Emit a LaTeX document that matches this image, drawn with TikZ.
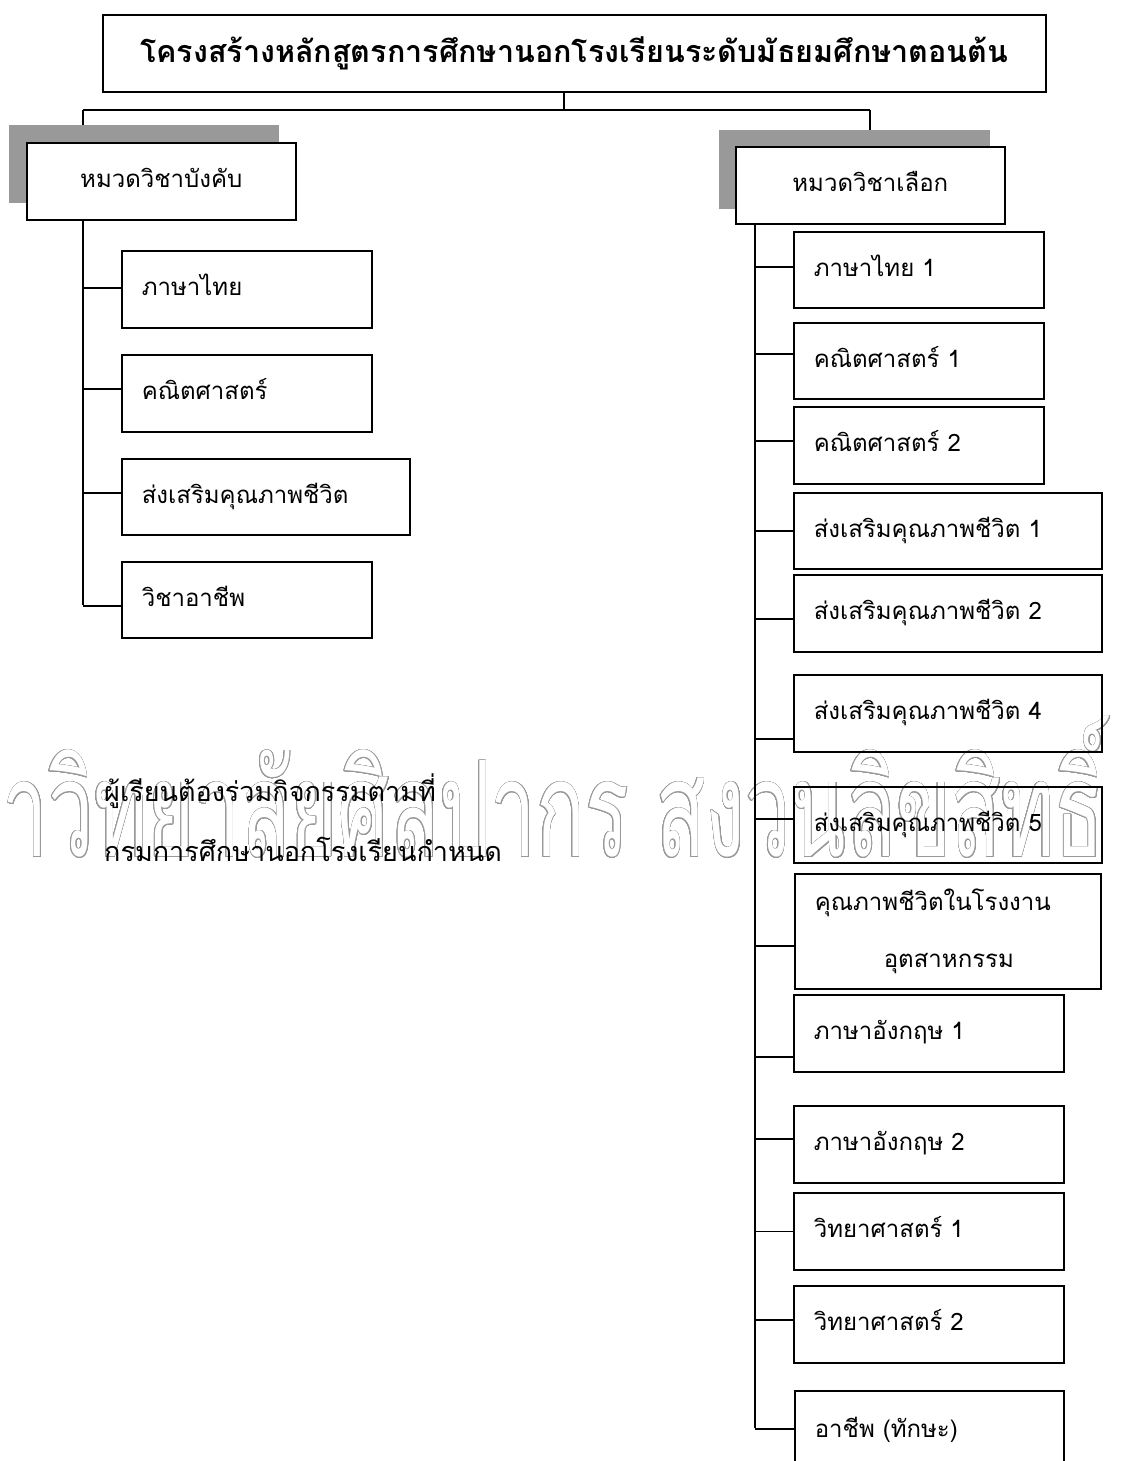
\documentclass[tikz,border=0pt]{standalone}
\usepackage{fontspec}
\usepackage{contour}
\contourlength{0.6pt}
\contournumber{32}
\newfontfamily\thai[Script=Thai]{Loma}
\newfontfamily\thaiwm[Script=Thai,FakeStretch=0.61]{Loma}
\newcommand\bxfont{\thai\fontsize{24}{29}\selectfont}
\newcommand\ttlfont{\thai\bfseries\fontsize{30.5}{37}\selectfont}
\newcommand\notefnt{\thai\fontsize{27}{60}\selectfont}
\newcommand\wmfnt{\thaiwm\fontsize{133}{140}\selectfont}
\begin{document}
\begin{tikzpicture}[x=1pt,y=-1pt,
  bx/.style={draw=black, line width=1.6pt, anchor=north west, inner xsep=20pt, inner ysep=0pt,
    align=left, font=\bxfont, text height=16pt, text depth=3pt},
  hbx/.style={draw=black, fill=white, line width=1.6pt, anchor=north west, inner sep=0pt,
    font=\bxfont, text height=16pt, text depth=3pt},
  shadowbox/.style={fill=black!40, draw=none, anchor=north west, inner sep=0pt},
  ln/.style={line width=1.4pt},
]
\useasboundingbox (0,0) rectangle (1121,1461);
\clip (0,0) rectangle (1121,1461);
\fill[white] (0,0) rectangle (1121,1461);

% watermark
\node[font=\wmfnt, text=white, inner sep=0pt] (wm) at (500,787) {\contour{black!40}{มหาวิทยาลัยศิลปากร สงวนลิขสิทธิ์}};

% title
\node[draw=black, line width=1.6pt, anchor=north west, minimum width=943pt, minimum height=77pt,
  inner sep=0pt, font=\ttlfont] (T) at (102,14) {โครงสร้างหลักสูตรการศึกษานอกโรงเรียนระดับมัธยมศึกษาตอนต้น};

% connectors from title
\coordinate (tj) at (564,110);
\coordinate (hl) at (83,110);
\coordinate (hr) at (870,110);

% shadows and headers
\node[shadowbox, minimum width=270pt, minimum height=78pt] (LS) at (9,125) {};
\node[shadowbox, minimum width=271pt, minimum height=79pt] (RS) at (719,130) {};
\draw[ln] (T.south -| tj) -- (tj);
\draw[ln] (hl) -- (hr);
\draw[ln] (hl) -- (LS.north -| hl);
\draw[ln] (hr) -- (RS.north -| hr);
\node[hbx, minimum width=269pt, minimum height=77pt] (LH) at (26,142) {หมวดวิชาบังคับ};
\node[hbx, minimum width=269pt, minimum height=77pt] (RH) at (735,146) {หมวดวิชาเลือก};

% left column
\node[bx, text width=210pt, minimum height=77pt] (L1) at (121,250) {ภาษาไทย};
\node[bx, text width=210pt, minimum height=77pt] (L2) at (121,354) {คณิตศาสตร์};
\node[bx, text width=248pt, minimum height=76pt] (L3) at (121,458) {ส่งเสริมคุณภาพชีวิต};
\node[bx, text width=210pt, minimum height=76pt] (L4) at (121,561) {วิชาอาชีพ};
\coordinate (lt) at (83,605);
\draw[ln] (LH.south -| lt) -- (lt);
\draw[ln] ([yshift=1.5pt]L1.west) -- ([yshift=1.5pt]L1.west -| lt);
\draw[ln] ([yshift=4.5pt]L2.west) -- ([yshift=4.5pt]L2.west -| lt);
\draw[ln] ([yshift=4pt]L3.west) -- ([yshift=4pt]L3.west -| lt);
\draw[ln] ([yshift=-6pt]L4.west) -- ([yshift=-6pt]L4.west -| lt);

% note text
\node[font=\notefnt, align=left, anchor=west, inner sep=0pt] (note) at (104,818)
  {ผู้เรียนต้องร่วมกิจกรรมตามที่\\กรมการศึกษานอกโรงเรียนกำหนด};

% right column
\node[bx, text width=210pt, minimum height=76pt] (R1) at (793,231) {ภาษาไทย 1};
\node[bx, text width=210pt, minimum height=76pt] (R2) at (793,322) {คณิตศาสตร์ 1};
\node[bx, text width=210pt, minimum height=77pt] (R3) at (793,406) {คณิตศาสตร์ 2};
\node[bx, text width=268pt, minimum height=76pt] (R4) at (793,492) {ส่งเสริมคุณภาพชีวิต 1};
\node[bx, text width=268pt, minimum height=77pt] (R5) at (793,574) {ส่งเสริมคุณภาพชีวิต 2};
\node[bx, text width=268pt, minimum height=77pt] (R6) at (793,674) {ส่งเสริมคุณภาพชีวิต 4};
\node[bx, text width=268pt, minimum height=76pt] (R7) at (793,786) {ส่งเสริมคุณภาพชีวิต 5};
\node[draw=black, line width=1.6pt, anchor=north west, inner xsep=20pt, inner ysep=0pt,
  align=left, font=\thai\fontsize{24}{57}\selectfont, text width=266pt, minimum height=115pt]
  (R8) at (794,873) {คุณภาพชีวิตในโรงงาน\\\hspace*{69pt}อุตสาหกรรม};
\node[bx, text width=230pt, minimum height=77pt] (R9) at (793,994) {ภาษาอังกฤษ 1};
\node[bx, text width=230pt, minimum height=77pt] (R10) at (793,1105) {ภาษาอังกฤษ 2};
\node[bx, text width=230pt, minimum height=77pt] (R11) at (793,1192) {วิทยาศาสตร์ 1};
\node[bx, text width=230pt, minimum height=77pt] (R12) at (793,1285) {วิทยาศาสตร์ 2};
\node[bx, text width=229pt, minimum height=80pt] (R13) at (794,1390) {อาชีพ (ทักษะ)};
\coordinate (rt) at (755,1428);
\draw[ln] (RH.south -| rt) -- (rt);
\draw[ln] ([yshift=3pt]R1.west) -- ([yshift=3pt]R1.west -| rt);
\draw[ln] ([yshift=7pt]R2.west) -- ([yshift=7pt]R2.west -| rt);
\draw[ln] ([yshift=4.5pt]R3.west) -- ([yshift=4.5pt]R3.west -| rt);
\draw[ln] (R4.west) -- (R4.west -| rt);
\draw[ln] ([yshift=-5.5pt]R5.west) -- ([yshift=-5.5pt]R5.west -| rt);
\draw[ln] ([yshift=-25.5pt]R6.west) -- ([yshift=-25.5pt]R6.west -| rt);
\draw[ln] ([yshift=6pt]R7.west) -- ([yshift=6pt]R7.west -| rt);
\draw[ln] ([yshift=-14.5pt]R8.west) -- ([yshift=-14.5pt]R8.west -| rt);
\draw[ln] ([yshift=-23.5pt]R9.west) -- ([yshift=-23.5pt]R9.west -| rt);
\draw[ln] ([yshift=5.5pt]R10.west) -- ([yshift=5.5pt]R10.west -| rt);
\draw[ln] (R11.west) -- (R11.west -| rt);
\draw[ln] ([yshift=4.5pt]R12.west) -- ([yshift=4.5pt]R12.west -| rt);
\draw[ln] ([yshift=2pt]R13.west) -- ([yshift=2pt]R13.west -| rt);
\end{tikzpicture}
\end{document}
